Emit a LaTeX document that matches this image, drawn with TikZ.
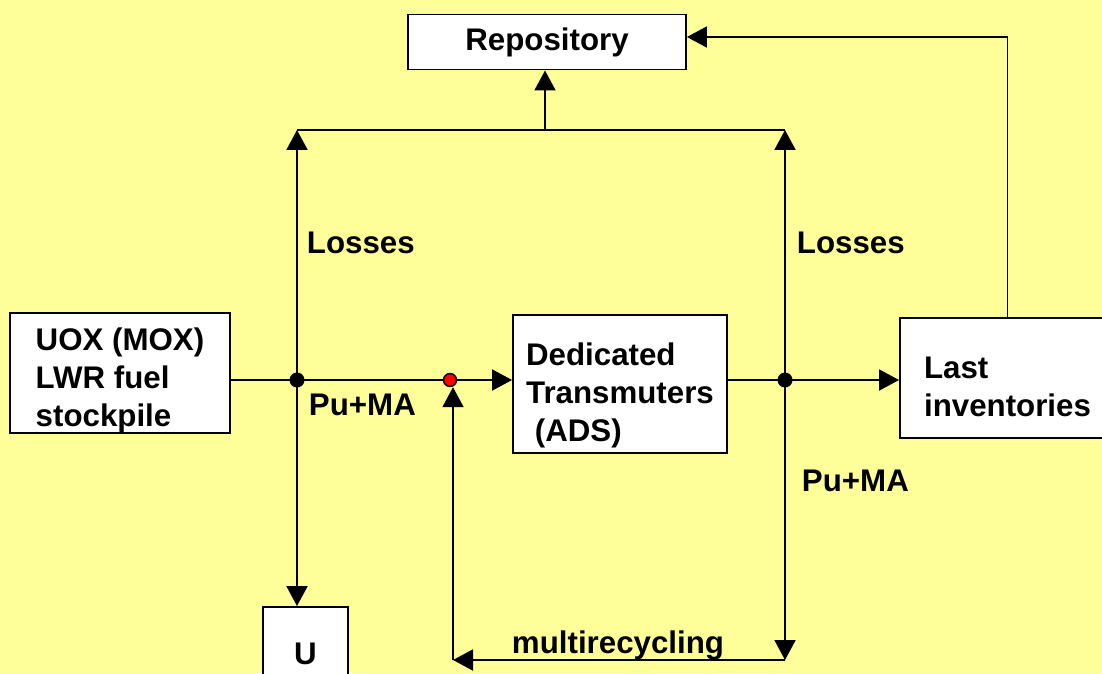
\documentclass[tikz,border=0pt]{standalone}
\usepackage{fontspec}
\setmainfont{Liberation Sans}
\usetikzlibrary{arrows.meta}
\definecolor{paper}{HTML}{FFFF99}
\begin{document}
\begin{tikzpicture}[x=0.02cm, y=-0.02cm,
    font=\fontsize{17.8}{21.5}\selectfont\bfseries,
    line width=1.1pt,
    box/.style={draw, fill=white, align=left, inner ysep=0pt},
    lbl/.style={anchor=west, inner sep=0pt},
    dot/.style={circle, fill=black, inner sep=0pt, minimum size=0.3cm},
    rdot/.style={circle, draw, fill=red, inner sep=0pt, minimum size=0.26cm, line width=0.8pt},
    arr/.style={-{Triangle[length=0.4cm, width=0.42cm]}}]
    \clip (0,0) rectangle (1102,673);
    \fill[paper] (0,0) rectangle (1102,673);
    \node[box, minimum width=5.56cm, minimum height=1.1cm] (rep) at (547,42) {Repository};
    \node[box, minimum width=4.4cm, minimum height=2.4cm] (uox) at (120,373) {\rule{0pt}{0.75cm}UOX (MOX)\\LWR fuel\\stockpile};
    \node[box, minimum width=4.28cm, minimum height=2.76cm] (ded) at (620,384) {\rule{0pt}{0.9cm}Dedicated\\Transmuters\\\ (ADS)};
    \node[box, minimum width=4.3cm, minimum height=2.4cm] (last) at (1007.5,378) {\rule{0pt}{0.78cm}Last\\inventories};
    \node[box, minimum width=1.7cm, minimum height=1.86cm] (u) at (305.5,653.5) {U};
    \node[dot] (jl) at (297,380) {};
    \node[dot] (jr) at (785,380) {};
    \node[rdot] (rd) at (450,380) {};
    \coordinate (tl) at (297,130);
    \coordinate (tr) at (785,130);
    \coordinate (tm) at (545,130);
    \coordinate (mr) at (785,660);
    \coordinate (ml) at (453,660);
    \draw (uox.east |- jl) -- (jl.center) -- (rd);
    \draw[arr] (rd) -- (ded.west |- rd);
    \draw (ded.east |- jr) -- (jr.center);
    \draw[arr] (jr.center) -- (last.west |- jr);
    \draw[arr] (jl.center) -- (tl);
    \draw[arr] (jr.center) -- (tr);
    \draw (tl) -- (tr);
    \draw[arr] (tm) -- (rep.south -| tm);
    \draw[arr] (jl.center) -- (u.north -| jl);
    \draw[arr] (jr.center) -- (mr);
    \draw[arr] (mr) -- (ml);
    \draw[arr] (ml) -- (rd.south -| ml);
    \draw[arr] (last.north) |- ([yshift=0.1cm]rep.east);
    \node[lbl] (loss1) at (306,243) {Losses};
    \node[lbl] (loss2) at (796,243) {Losses};
    \node[lbl] (pu1) at (308,405) {Pu+MA};
    \node[lbl] (pu2) at (801,481) {Pu+MA};
    \node (mrc) at (618,645) {multirecycling};
\end{tikzpicture}
\end{document}
